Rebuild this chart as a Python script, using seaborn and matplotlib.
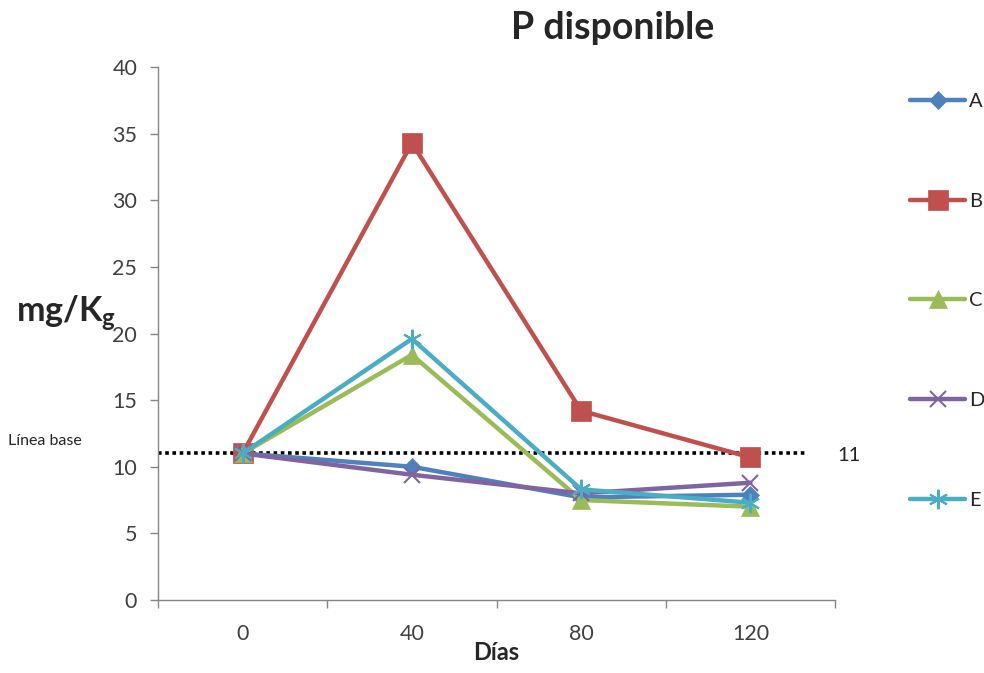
import matplotlib
matplotlib.use("Agg")
import matplotlib.pyplot as plt
from matplotlib.ticker import FixedLocator
import pandas as pd
import seaborn as sns

# Days after application and available P per treatment (mg/Kg)
dias = ["0", "40", "80", "120"]
serie_a = [11.0, 10.0, 7.7, 7.9]
serie_b = [11.0, 34.3, 14.2, 10.7]
serie_c = [11.0, 18.4, 7.5, 7.0]
serie_d = [11.0, 9.4, 8.0, 8.8]
serie_e = [11.0, 19.6, 8.3, 7.3]
tratamientos = ["A", "B", "C", "D", "E"]
linea_base = 11

colores = ["#4F81BD", "#C0504D", "#9BBB59", "#8064A2", "#4BACC6"]
marcadores = ["D", "s", "^", "x", (6, 2, 0)]
tamanos = [9, 14, 13, 12, 14]

df = pd.DataFrame({
    "Días": dias * 5,
    "P": serie_a + serie_b + serie_c + serie_d + serie_e,
    "Tratamiento": [t for t in tratamientos for _ in dias],
})

sns.set_theme(style="white")
plt.rcParams["font.family"] = ["Lato", "DejaVu Sans"]

fig = plt.figure(figsize=(9.84, 6.73), dpi=100)
ax = fig.add_axes([0.1606, 0.1085, 0.688, 0.7919])

for t, c, m, ms in zip(tratamientos, colores, marcadores, tamanos):
    sub = df[df["Tratamiento"] == t]
    sns.lineplot(data=sub, x="Días", y="P", ax=ax, color=c, linewidth=3.2,
                 marker=m, markersize=ms, markeredgecolor=c,
                 markeredgewidth=1.5 if m in ("x",) or isinstance(m, tuple) else 0.5,
                 label=t, sort=False)

# dotted reference line at the initial level
ax.axhline(linea_base, xmin=0.0, xmax=0.955, color="black", linestyle=(0, (1, 1)),
           linewidth=2.6, zorder=1)

ax.set_xlim(-0.5, 3.5)
ax.set_ylim(0, 40)
ax.set_yticks(range(0, 41, 5))
ax.set_xticks(range(4))
ax.set_xticklabels(dias)
ax.xaxis.set_minor_locator(FixedLocator([-0.5, 0.5, 1.5, 2.5, 3.5]))
ax.tick_params(axis="x", which="major", length=0, pad=17, labelsize=15.5, labelcolor="#404040")
ax.tick_params(axis="x", which="minor", length=6, width=1, color="#868686", bottom=True)
ax.tick_params(axis="y", which="major", length=6, width=1, color="#868686", left=True,
               pad=9, labelsize=15.5, labelcolor="#404040")

for s in ["top", "right"]:
    ax.spines[s].set_visible(False)
for s in ["left", "bottom"]:
    ax.spines[s].set_color("#868686")
    ax.spines[s].set_linewidth(1)

ax.set_xlabel("Días", fontsize=17, fontweight="bold", labelpad=-2)
ax.set_ylabel("")
fig.text(0.016, 0.535, r"mg/K$_\mathregular{g}$", fontsize=24.5, fontweight="bold",
         ha="left", va="center")
fig.text(0.008, 0.345, "Línea base", fontsize=11.5, ha="left", va="center")
fig.text(0.851, 0.323, f"{linea_base}", fontsize=14.5, ha="left", va="center")
fig.text(0.623, 0.958, "P disponible", fontsize=27, fontweight="bold", ha="center",
         va="center")

handles, labels = ax.get_legend_handles_labels()
ax.legend(handles, labels, loc="upper left", bbox_to_anchor=(0.915, 0.877),
          bbox_transform=fig.transFigure, frameon=False, fontsize=14.5,
          labelspacing=4.1, handlelength=2.7, handletextpad=0.2,
          borderpad=0)

fig.savefig("out.png", dpi=100)
